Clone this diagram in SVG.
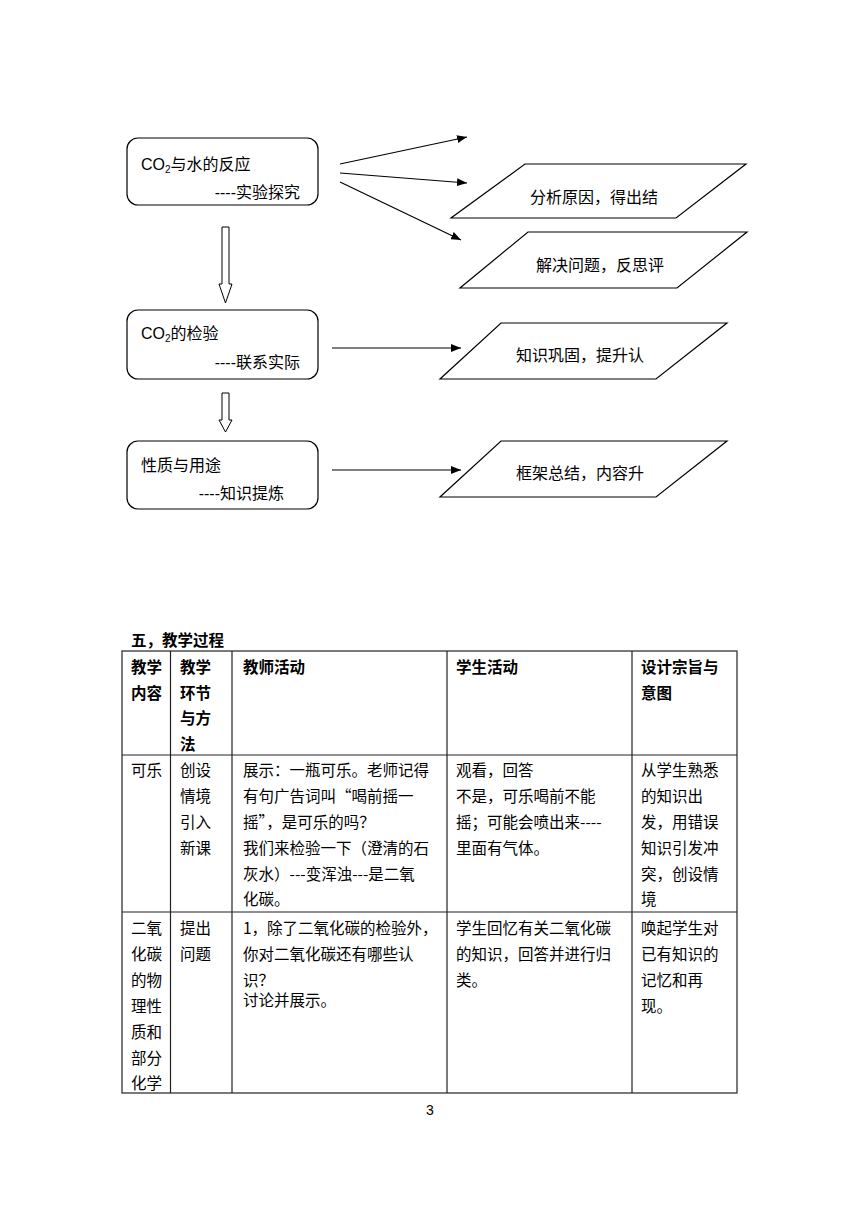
<svg xmlns="http://www.w3.org/2000/svg" width="860" height="1216" viewBox="0 0 860 1216">
<style>
.bg{fill:#ffffff}
.box{fill:#ffffff;stroke:#000;stroke-width:1.2}
.para{fill:#ffffff;stroke:#000;stroke-width:1.2}
.hollow{fill:#ffffff;stroke:#000;stroke-width:1}
.conn{stroke:#000;stroke-width:1.2;fill:none}
.ft{font-family:"Liberation Sans","Noto Sans CJK SC",sans-serif;font-size:16px;fill:#000}
.tt{font-family:"Noto Sans CJK SC",sans-serif;font-size:15.5px;fill:#000}
.th{font-family:"Noto Sans CJK SC",sans-serif;font-size:15.5px;font-weight:bold;fill:#000}
.grid{stroke:#222;stroke-width:1.2;fill:none}
.pg{font-family:"Liberation Sans",sans-serif;font-size:14px;fill:#000}
</style>
<defs>
<marker id="ah" markerWidth="10" markerHeight="8" refX="10" refY="4" orient="auto" markerUnits="userSpaceOnUse">
<path d="M0,0 L10,4 L0,8 Z" fill="#000"/>
</marker>
</defs>
<rect class="bg" x="0" y="0" width="860" height="1216"/>

<g id="connectors">
<line class="conn" x1="340" y1="164" x2="467" y2="137" marker-end="url(#ah)"/>
<line class="conn" x1="340" y1="173" x2="467" y2="183" marker-end="url(#ah)"/>
<line class="conn" x1="340" y1="182" x2="461" y2="240" marker-end="url(#ah)"/>
<line class="conn" x1="332" y1="348" x2="461" y2="348" marker-end="url(#ah)"/>
<line class="conn" x1="332" y1="470" x2="461" y2="470" marker-end="url(#ah)"/>
<polygon id="flow1" class="hollow" points="222,227 229,227 229,284 232,284 225.5,303 219,284 222,284"/>
<polygon id="flow2" class="hollow" points="222,393 229,393 229,420 232,420 225.5,432 219,420 222,420"/>
</g>

<g id="n-reaction">
<rect class="box" x="127" y="138" width="191" height="67" rx="11"/>
<text class="ft" x="141" y="170">CO<tspan font-size="10" dy="3">2</tspan><tspan dy="-3">与水的反应</tspan></text>
<text class="ft" x="300" y="198" text-anchor="end">----实验探究</text>
</g>
<g id="n-test">
<rect class="box" x="127" y="310" width="191" height="69" rx="11"/>
<text class="ft" x="141" y="339">CO<tspan font-size="10" dy="3">2</tspan><tspan dy="-3">的检验</tspan></text>
<text class="ft" x="300" y="368" text-anchor="end">----联系实际</text>
</g>
<g id="n-property">
<rect class="box" x="127" y="441" width="191" height="68" rx="11"/>
<text class="ft" x="141" y="471">性质与用途</text>
<text class="ft" x="284" y="499" text-anchor="end">----知识提炼</text>
</g>
<g id="p-analyze">
<polygon class="para" points="525,164 746,164 676,218 451,218"/>
<text class="ft" x="594" y="203" text-anchor="middle">分析原因，得出结</text>
</g>
<g id="p-solve">
<polygon class="para" points="528,232 747,232 677,288 460,288"/>
<text class="ft" x="600" y="271" text-anchor="middle">解决问题，反思评</text>
</g>
<g id="p-consolidate">
<polygon class="para" points="501,323 727,323 656,379 440,379"/>
<text class="ft" x="580" y="361" text-anchor="middle">知识巩固，提升认</text>
</g>
<g id="p-summary">
<polygon class="para" points="501,441 727,441 656,497 440,497"/>
<text class="ft" x="580" y="479" text-anchor="middle">框架总结，内容升</text>
</g>

<g id="table">
<text class="th" x="131" y="646">五，教学过程</text>
<rect class="grid" x="122" y="651" width="615" height="442"/>
<line class="grid" x1="122" y1="755" x2="737" y2="755"/>
<line class="grid" x1="122" y1="912" x2="737" y2="912"/>
<line class="grid" x1="170.5" y1="651" x2="170.5" y2="1093" stroke="#666"/>
<line class="grid" x1="232" y1="651" x2="232" y2="1093"/>
<line class="grid" x1="447" y1="651" x2="447" y2="1093"/>
<line class="grid" x1="632" y1="651" x2="632" y2="1093"/>

<g id="hdr">
<text class="th" x="131" y="673">教学</text>
<text class="th" x="131" y="699">内容</text>
<text class="th" x="180" y="673">教学</text>
<text class="th" x="180" y="699">环节</text>
<text class="th" x="180" y="724">与方</text>
<text class="th" x="180" y="750">法</text>
<text class="th" x="243" y="673">教师活动</text>
<text class="th" x="456" y="673">学生活动</text>
<text class="th" x="641" y="673">设计宗旨与</text>
<text class="th" x="641" y="699">意图</text>
</g>
<g id="row1">
<text class="tt" x="131" y="776">可乐</text>
<text class="tt" x="180" y="776">创设</text>
<text class="tt" x="180" y="802">情境</text>
<text class="tt" x="180" y="828">引入</text>
<text class="tt" x="180" y="854">新课</text>
<text class="tt" x="243" y="776">展示：一瓶可乐。老师记得</text>
<text class="tt" x="243" y="802">有句广告词叫“喝前摇一</text>
<text class="tt" x="243" y="828">摇”，是可乐的吗？</text>
<text class="tt" x="243" y="854">我们来检验一下（澄清的石</text>
<text class="tt" x="243" y="880">灰水）---变浑浊---是二氧</text>
<text class="tt" x="243" y="905">化碳。</text>
<text class="tt" x="456" y="776">观看，回答</text>
<text class="tt" x="456" y="802">不是，可乐喝前不能</text>
<text class="tt" x="456" y="828">摇；可能会喷出来----</text>
<text class="tt" x="456" y="854">里面有气体。</text>
<text class="tt" x="641" y="776">从学生熟悉</text>
<text class="tt" x="641" y="802">的知识出</text>
<text class="tt" x="641" y="828">发，用错误</text>
<text class="tt" x="641" y="854">知识引发冲</text>
<text class="tt" x="641" y="880">突，创设情</text>
<text class="tt" x="641" y="905">境</text>
</g>
<g id="row2">
<text class="tt" x="131" y="934">二氧</text>
<text class="tt" x="131" y="960">化碳</text>
<text class="tt" x="131" y="986">的物</text>
<text class="tt" x="131" y="1012">理性</text>
<text class="tt" x="131" y="1038">质和</text>
<text class="tt" x="131" y="1064">部分</text>
<text class="tt" x="131" y="1089">化学</text>
<text class="tt" x="180" y="934">提出</text>
<text class="tt" x="180" y="960">问题</text>
<text class="tt" x="243" y="934">1，除了二氧化碳的检验外，</text>
<text class="tt" x="243" y="960">你对二氧化碳还有哪些认</text>
<text class="tt" x="243" y="986">识？</text>
<text class="tt" x="243" y="1006">讨论并展示。</text>
<text class="tt" x="456" y="934">学生回忆有关二氧化碳</text>
<text class="tt" x="456" y="960">的知识，回答并进行归</text>
<text class="tt" x="456" y="986">类。</text>
<text class="tt" x="641" y="934">唤起学生对</text>
<text class="tt" x="641" y="960">已有知识的</text>
<text class="tt" x="641" y="986">记忆和再</text>
<text class="tt" x="641" y="1012">现。</text>
</g>
</g>
<text class="pg" x="430" y="1115" text-anchor="middle">3</text>
</svg>
